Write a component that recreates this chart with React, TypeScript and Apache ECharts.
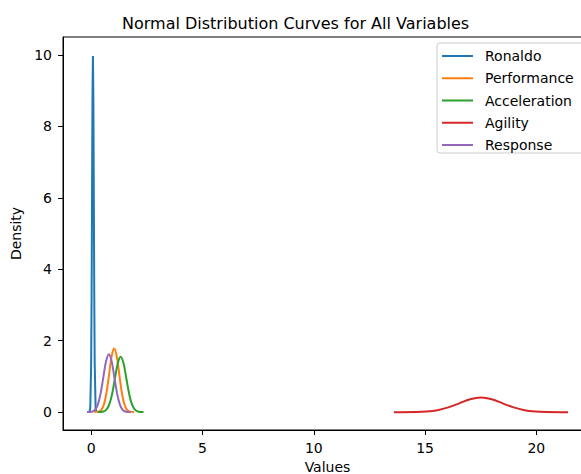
import React, { useEffect, useRef } from "react";
import * as echarts from "echarts";

const FONT = "DejaVu Sans";

const seriesNames = ["Ronaldo", "Performance", "Acceleration", "Agility", "Response"];
const seriesColors = ["#1f77b4", "#ff7f0e", "#2ca02c", "#d62728", "#9467bd"];

const ronaldoX = [-0.085, -0.045, -0.005, 0.015, 0.035, 0.055, 0.075, 0.095, 0.115, 0.135, 0.155, 0.195, 0.235];
const ronaldoY = [0.003, 0.11, 1.35, 3.24, 6.05, 8.8, 9.97, 8.8, 6.05, 3.24, 1.35, 0.11, 0.003];

const performanceX = [0.134, 0.358, 0.47, 0.582, 0.694, 0.806, 0.918, 1.03, 1.142, 1.254, 1.366, 1.478, 1.59, 1.702, 1.926];
const performanceY = [0.0006, 0.0198, 0.078, 0.241, 0.578, 1.08, 1.571, 1.78, 1.571, 1.08, 0.578, 0.241, 0.078, 0.0198, 0.0006];

const accelerationX = [0.292, 0.549, 0.678, 0.806, 0.935, 1.063, 1.192, 1.32, 1.449, 1.577, 1.706, 1.834, 1.963, 2.091, 2.348];
const accelerationY = [0.0005, 0.017, 0.068, 0.21, 0.503, 0.94, 1.368, 1.55, 1.368, 0.94, 0.503, 0.21, 0.068, 0.017, 0.0005];

const agilityX = [13.598, 14.576, 15.065, 15.554, 16.043, 16.532, 17.021, 17.51, 17.999, 18.488, 18.977, 19.466, 19.955, 20.444, 21.422];
const agilityY = [0.0001, 0.0045, 0.018, 0.055, 0.132, 0.247, 0.36, 0.408, 0.36, 0.247, 0.132, 0.055, 0.018, 0.0045, 0.0001];

const responseX = [-0.194, 0.052, 0.175, 0.298, 0.421, 0.544, 0.667, 0.79, 0.913, 1.036, 1.159, 1.282, 1.405, 1.528, 1.774];
const responseY = [0.0005, 0.018, 0.071, 0.219, 0.526, 0.983, 1.43, 1.62, 1.43, 0.983, 0.526, 0.219, 0.071, 0.018, 0.0005];

const xTicks = [0, 5, 10, 15, 20];
const yTicks = [0, 2, 4, 6, 8, 10];

const allX = [ronaldoX, performanceX, accelerationX, agilityX, responseX];
const allY = [ronaldoY, performanceY, accelerationY, agilityY, responseY];

export default function App() {
  const ref = useRef<HTMLDivElement>(null);
  useEffect(() => {
    if (!ref.current) return;
    const chart = echarts.init(ref.current, undefined, { renderer: "svg" });
    const axisCommon = {
      axisLine: { show: true, onZero: false, lineStyle: { color: "#000", width: 1 } },
      axisTick: { show: true, length: 5, lineStyle: { color: "#000", width: 1 } },
      splitLine: { show: false },
    };
    chart.setOption({
      animation: false,
      backgroundColor: "#fff",
      title: {
        text: "Normal Distribution Curves for All Variables",
        left: 122,
        top: 15,
        padding: 0,
        textStyle: { fontFamily: FONT, fontSize: 16, fontWeight: "normal", color: "#000" },
      },
      grid: {
        left: 63,
        top: 37,
        right: 8,
        bottom: 44,
        show: true,
        borderColor: "#000",
        borderWidth: 1,
        containLabel: false,
        outerBoundsMode: "none",
      },
      legend: {
        orient: "vertical",
        left: 437,
        top: 43,
        padding: [6, 5, 1, 5],
        itemGap: 8.25,
        itemWidth: 31,
        itemHeight: 2,
        icon: "rect",
        backgroundColor: "rgba(255,255,255,0.8)",
        borderColor: "#cccccc",
        borderWidth: 1,
        borderRadius: 3,
        textStyle: { fontFamily: FONT, fontSize: 14, color: "#000", lineHeight: 14, padding: [0, 40, 0, 7] },
        data: seriesNames,
      },
      xAxis: {
        type: "value",
        min: -1.27,
        max: 22.5,
        name: "Values",
        nameLocation: "middle",
        nameGap: 30,
        nameTextStyle: { fontFamily: FONT, fontSize: 14, color: "#000" },
        ...axisCommon,
        axisTick: { ...axisCommon.axisTick, customValues: xTicks },
        axisLabel: { customValues: xTicks, margin: 11, fontFamily: FONT, fontSize: 14, color: "#000" },
      },
      yAxis: {
        type: "value",
        min: -0.5,
        max: 10.5,
        name: "Density",
        nameLocation: "middle",
        nameGap: 27,
        nameTextStyle: { fontFamily: FONT, fontSize: 14, color: "#000" },
        ...axisCommon,
        axisTick: { ...axisCommon.axisTick, customValues: yTicks },
        axisLabel: { customValues: yTicks, margin: 11, fontFamily: FONT, fontSize: 14, color: "#000" },
      },
      series: seriesNames.map((name, i) => ({
        name,
        type: "line",
        data: allX[i].map((x, j) => [x, allY[i][j]]),
        symbol: "none",
        smooth: i === 0 ? false : 0.35,
        lineStyle: { color: seriesColors[i], width: 2 },
        itemStyle: { color: seriesColors[i] },
      })),
    });
    return () => chart.dispose();
  }, []);
  return <div ref={ref} style={{ position: "fixed", left: 0, top: 0, width: 600, height: 474 }} />;
}
